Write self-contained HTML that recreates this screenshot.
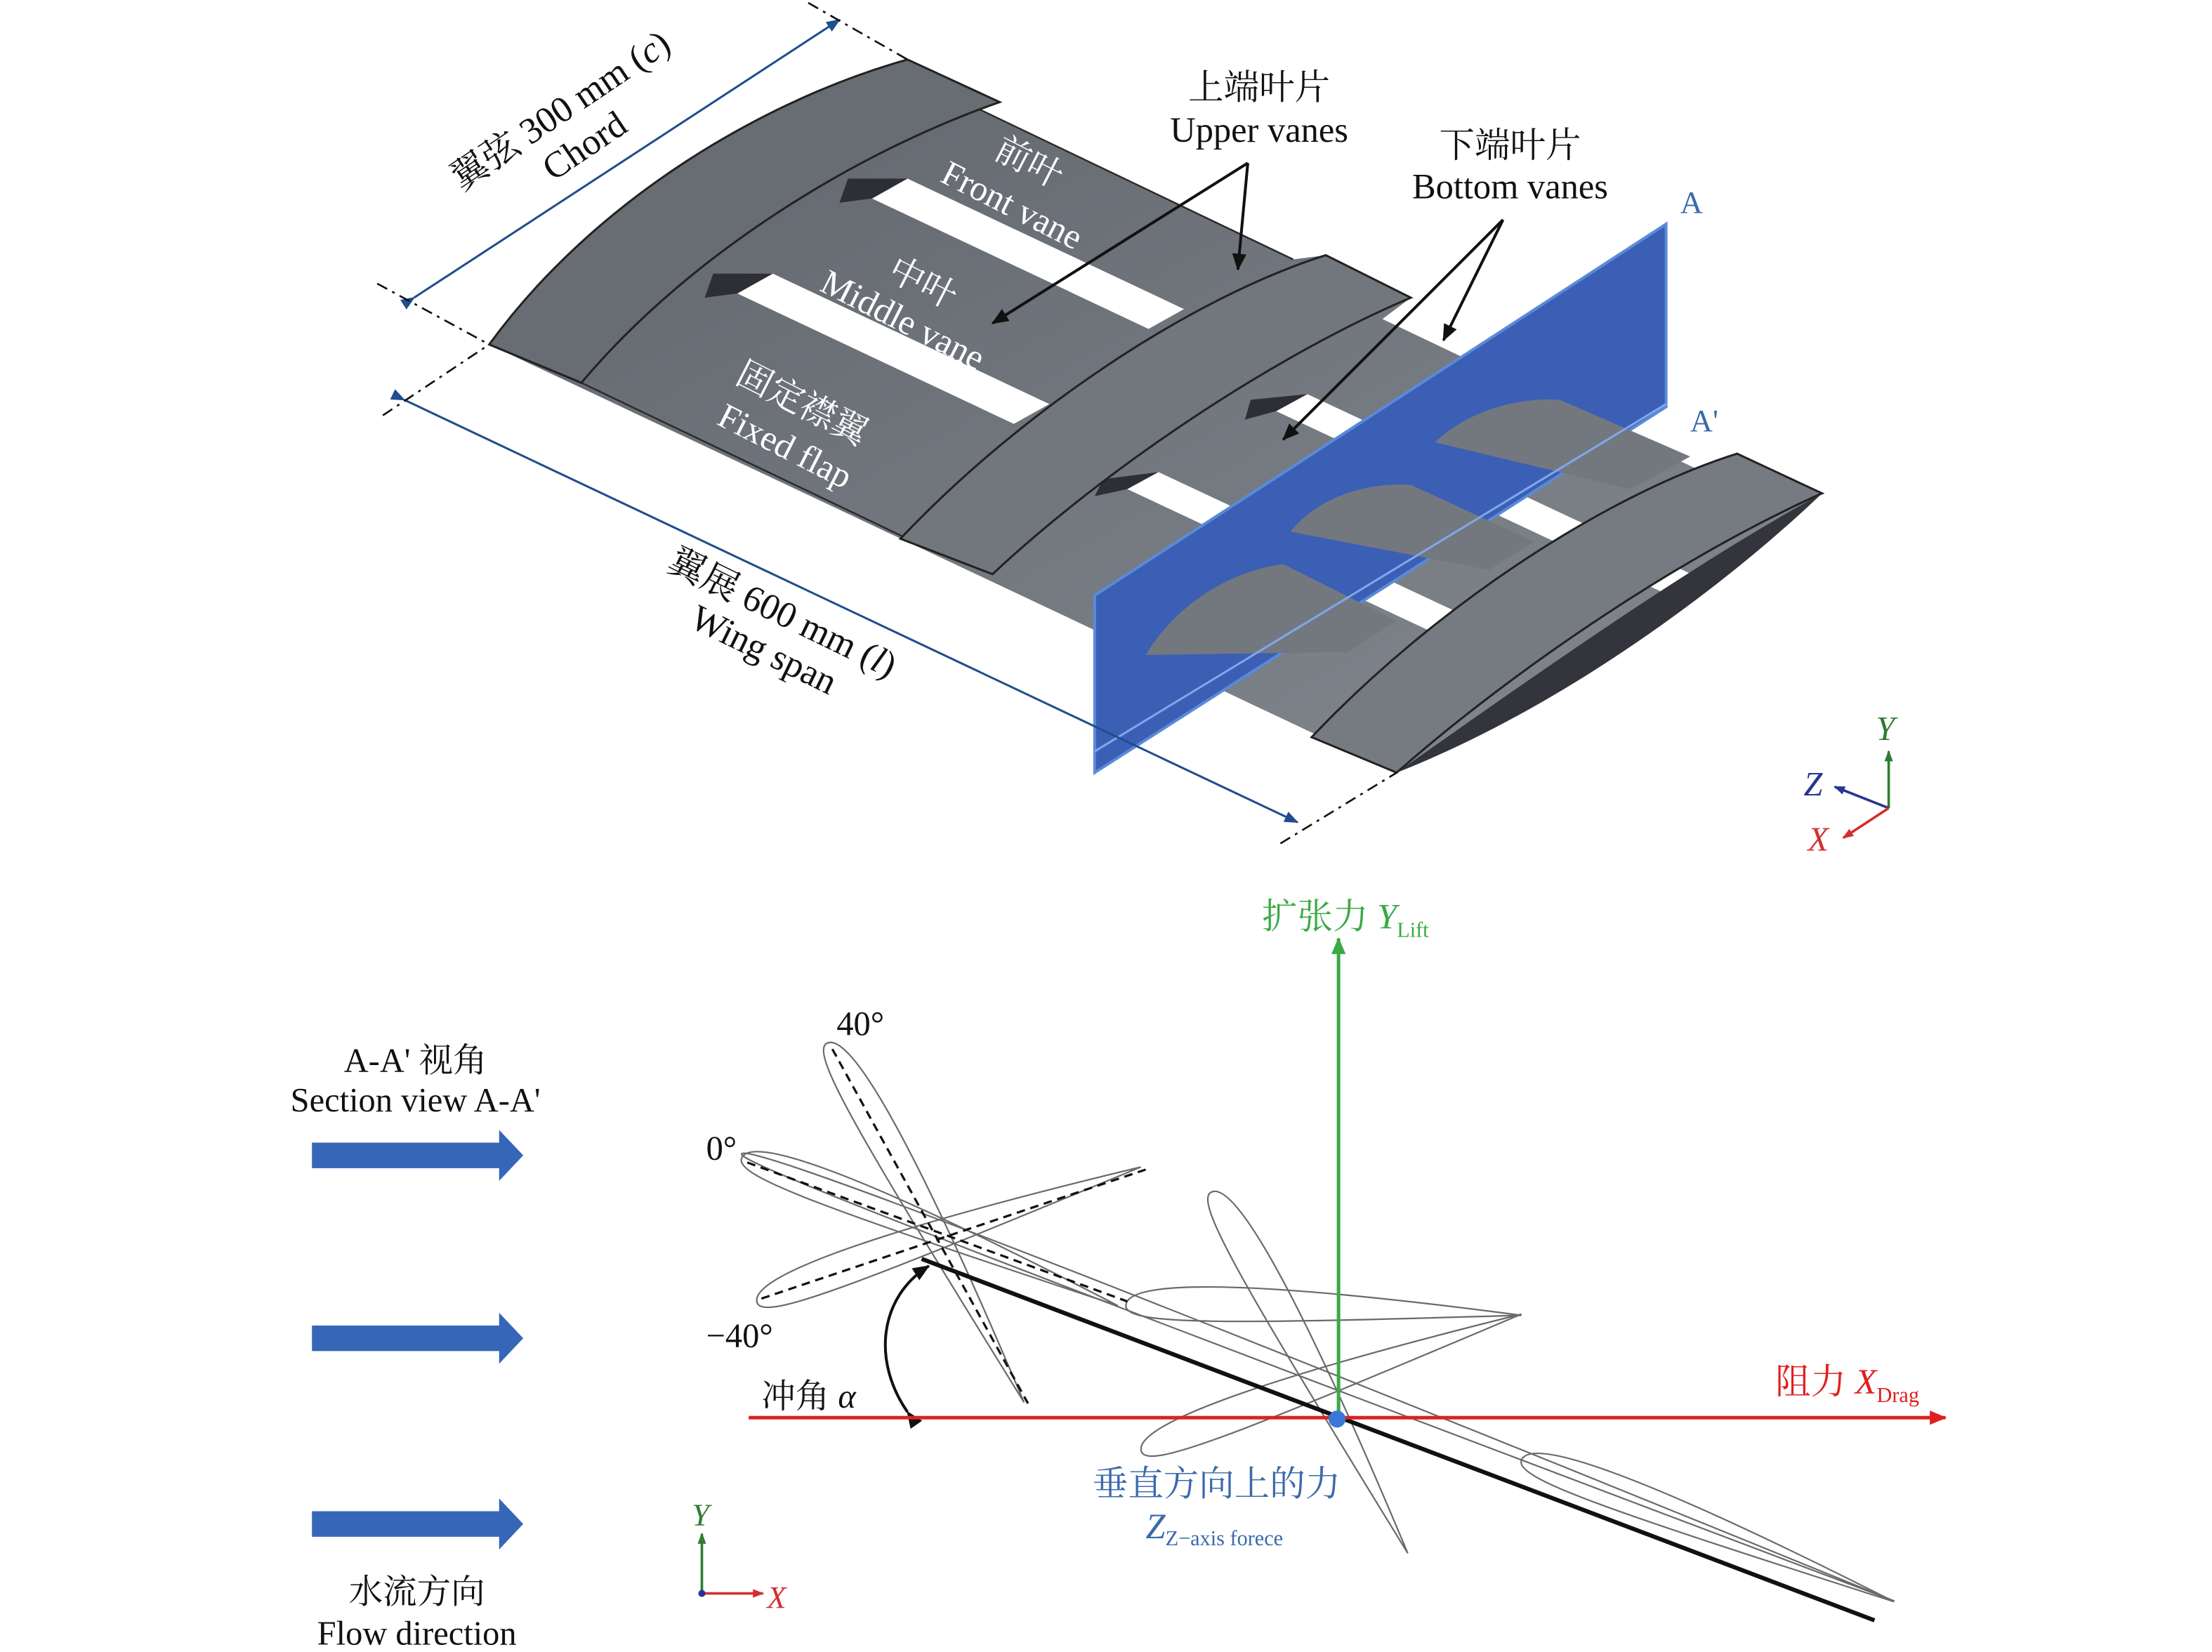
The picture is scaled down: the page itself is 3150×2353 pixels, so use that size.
<!DOCTYPE html>
<html><head><meta charset="utf-8"><style>
html,body{margin:0;padding:0;background:#fff;}
svg{display:block;}
text{font-family:"Liberation Serif","Noto Serif CJK SC",serif;}
</style></head><body>
<svg width="3150" height="2353" viewBox="0 0 1560 1165.3" xmlns="http://www.w3.org/2000/svg">
<defs>
<marker id="ab" markerWidth="10" markerHeight="10" refX="9" refY="5" orient="auto" markerUnits="userSpaceOnUse"><path d="M0,1 L10,5 L0,9 z" fill="#1f4e8c"/></marker>
<marker id="ak" markerWidth="12" markerHeight="12" refX="11" refY="6" orient="auto" markerUnits="userSpaceOnUse"><path d="M0,1 L12,6 L0,11 z" fill="#111"/></marker>
<marker id="ag" markerWidth="12" markerHeight="12" refX="11" refY="6" orient="auto" markerUnits="userSpaceOnUse"><path d="M0,1 L12,6 L0,11 z" fill="#3aaa45"/></marker>
<marker id="ar" markerWidth="12" markerHeight="12" refX="11" refY="6" orient="auto" markerUnits="userSpaceOnUse"><path d="M0,1 L12,6 L0,11 z" fill="#e02020"/></marker>
<marker id="sg" markerWidth="8" markerHeight="8" refX="7" refY="4" orient="auto" markerUnits="userSpaceOnUse"><path d="M0,1 L8,4 L0,7 z" fill="#2e7d32"/></marker>
<marker id="sr" markerWidth="8" markerHeight="8" refX="7" refY="4" orient="auto" markerUnits="userSpaceOnUse"><path d="M0,1 L8,4 L0,7 z" fill="#d32f2f"/></marker>
<marker id="sn" markerWidth="8" markerHeight="8" refX="7" refY="4" orient="auto" markerUnits="userSpaceOnUse"><path d="M0,1 L8,4 L0,7 z" fill="#283593"/></marker>
<linearGradient id="gw" x1="0" y1="0" x2="1" y2="1"><stop offset="0" stop-color="#5f646b"/><stop offset="1" stop-color="#858a91"/></linearGradient>
<path id="af" d="M0,0 C0,-6 25,-8 100,0 C25,4 0,5 0,0 Z" fill="none" stroke="#6a6a6a" stroke-width="2.2" vector-effect="non-scaling-stroke"/>
</defs>

<!-- WING base -->
<path d="M345,243 C420,140 540,70 640,42 L705,72 L680,72 L912,183 L935,180 L995,210 L975,225 L1195,330 L1225,320 L1285,348 L985,545 Z" fill="url(#gw)"/>
<g fill="#fff">
<polygon points="615,140 640,126 835,218 810,232"/>
<polygon points="520,207 545,193 740,285 715,299"/>
<polygon points="900,290 922,278 1195,406 1173,418"/>
<polygon points="795,345 817,333 1090,461 1068,473"/>
</g>
<g fill="#2e2f36">
<polygon points="598,126 640,126 615,140 592,143"/>
<polygon points="503,193 545,193 520,207 497,210"/>
<polygon points="882,282 922,278 900,290 878,296"/>
<polygon points="778,338 817,333 795,345 772,350"/>
</g>
<g stroke="#2a2a2a" stroke-width="1.2" fill="none">
<line x1="680" y1="72" x2="912" y2="183"/>
<line x1="410" y1="270" x2="640" y2="380"/>
</g>
<!-- end plates -->
<path d="M345,243 C420,140 540,70 640,42 L705,72 C610,105 490,175 410,270 Z" fill="#686d74" stroke="#222" stroke-width="1.5"/>
<path d="M635,380 C720,290 840,210 935,180 L995,210 C900,250 780,330 700,405 Z" fill="#72777e" stroke="#222" stroke-width="1.5"/>
<path d="M925,520 C1010,430 1130,350 1225,320 L1285,348 C1190,390 1070,470 985,545 Z" fill="#767b82" stroke="#222" stroke-width="1.5"/>
<path d="M985,545 C1080,478 1190,400 1285,348 C1215,415 1100,500 985,545 Z" fill="#33343c"/>

<!-- blue section plane -->
<polygon points="772,420 1175,158 1175,287 772,545" fill="#3a5fb5" stroke="#5b8ad8" stroke-width="2"/>
<g fill="#73787f">
<path d="M808,462 C830,425 870,402 905,398 L985,438 L950,460 Z"/>
<path d="M910,375 C930,350 965,340 995,342 L1082,382 L1050,402 Z"/>
<path d="M1012,312 C1035,290 1070,280 1100,282 L1192,322 L1150,345 Z"/>
</g>
<line x1="772" y1="530" x2="1175" y2="285" stroke="#7fa8ea" stroke-width="1.5"/>
<text x="1185" y="150" font-size="22" fill="#3a6aab">A</text>
<text x="1192" y="304" font-size="22" fill="#3a6aab">A'</text>

<!-- dimension lines -->
<g stroke="#1f4e8c" stroke-width="1.5" fill="none">
<line x1="292" y1="210" x2="592" y2="14" marker-start="url(#ab)" marker-end="url(#ab)"/>
<line x1="285" y1="282" x2="915" y2="580" marker-start="url(#ab)" marker-end="url(#ab)"/>
</g>
<g stroke="#111" stroke-width="1.3" stroke-dasharray="8,4,2,4" fill="none">
<line x1="266" y1="200" x2="345" y2="243"/>
<line x1="570" y1="2" x2="640" y2="42"/>
<line x1="270" y1="293" x2="345" y2="243"/>
<line x1="903" y1="595" x2="985" y2="545"/>
</g>
<g font-size="26" fill="#111">
<text transform="translate(400,85) rotate(-34)" text-anchor="middle">翼弦 300 mm (<tspan font-style="italic">c</tspan>)</text>
<text transform="translate(417,110) rotate(-34)" text-anchor="middle">Chord</text>
<text transform="translate(548,440) rotate(26)" text-anchor="middle">翼展 600 mm (<tspan font-style="italic">l</tspan>)</text>
<text transform="translate(535,466) rotate(26)" text-anchor="middle">Wing span</text>
</g>
<g font-size="25" fill="#fff">
<text transform="translate(722,122) rotate(27)" text-anchor="middle">前叶</text>
<text transform="translate(710,152) rotate(27)" text-anchor="middle">Front vane</text>
<text transform="translate(647,207) rotate(27)" text-anchor="middle">中叶</text>
<text transform="translate(633,233) rotate(27)" text-anchor="middle">Middle vane</text>
<text transform="translate(562,292) rotate(27)" text-anchor="middle">固定襟翼</text>
<text transform="translate(550,322) rotate(27)" text-anchor="middle">Fixed flap</text>
</g>
<g font-size="25" fill="#111" text-anchor="middle">
<text x="888" y="70">上端叶片</text>
<text x="888" y="100">Upper vanes</text>
<text x="1065" y="111">下端叶片</text>
<text x="1065" y="140">Bottom vanes</text>
</g>
<g stroke="#111" stroke-width="2" fill="none">
<line x1="880" y1="115" x2="873" y2="190" marker-end="url(#ak)"/>
<line x1="880" y1="115" x2="700" y2="228" marker-end="url(#ak)"/>
<line x1="1060" y1="155" x2="1018" y2="240" marker-end="url(#ak)"/>
<line x1="1060" y1="155" x2="905" y2="310" marker-end="url(#ak)"/>
</g>

<!-- 3D axes -->
<g stroke-width="1.8" fill="none">
<line x1="1332" y1="570" x2="1332" y2="530" stroke="#2e7d32" marker-end="url(#sg)"/>
<line x1="1332" y1="570" x2="1294" y2="555" stroke="#283593" marker-end="url(#sn)"/>
<line x1="1332" y1="570" x2="1300" y2="591" stroke="#d32f2f" marker-end="url(#sr)"/>
</g>
<g font-size="24" font-style="italic">
<text x="1323" y="522" fill="#2e7d32">Y</text>
<text x="1272" y="561" fill="#283593">Z</text>
<text x="1275" y="600" fill="#d32f2f">X</text>
</g>

<!-- BOTTOM -->
<g font-size="24" fill="#111" text-anchor="middle">
<text x="293" y="756">A-A' 视角</text>
<text x="293" y="784">Section view A-A'</text>
<text x="294" y="1131">水流方向</text>
<text x="294" y="1160">Flow direction</text>
</g>
<g fill="#3566b8">
<path d="M220,806 L352,806 L352,797 L369,815 L352,833 L352,824 L220,824 Z"/>
<path d="M220,935 L352,935 L352,926 L369,944 L352,962 L352,953 L220,953 Z"/>
<path d="M220,1066 L352,1066 L352,1057 L369,1075 L352,1093 L352,1084 L220,1084 Z"/>
</g>
<g stroke-width="1.8">
<line x1="495" y1="1124" x2="495" y2="1082" stroke="#2e7d32" marker-end="url(#sg)"/>
<line x1="495" y1="1124" x2="538" y2="1124" stroke="#d32f2f" marker-end="url(#sr)"/>
</g>
<circle cx="495" cy="1124" r="2.5" fill="#283593"/>
<text x="488" y="1076" font-size="22" font-style="italic" fill="#2e7d32">Y</text>
<text x="541" y="1134" font-size="22" font-style="italic" fill="#d32f2f">X</text>

<!-- airfoils -->
<use href="#af" transform="translate(583,736) rotate(61.2) scale(2.89,2.8)"/>
<use href="#af" transform="translate(523,817) rotate(21.4) scale(2.85,2.8)"/>
<use href="#af" transform="translate(534,919) rotate(-19.5) scale(2.87,2.8)"/>
<use href="#af" transform="translate(794,921) rotate(1.4) scale(2.79,2.8)"/>
<use href="#af" transform="translate(854,841) rotate(61.4) scale(2.9,2.8)"/>
<use href="#af" transform="translate(805,1024) rotate(-19.9) scale(2.85,2.8)"/>
<use href="#af" transform="translate(1073,1030) rotate(20.8) scale(2.81,2.8)"/>
<use href="#af" transform="translate(523,814) rotate(21.2) scale(8.72,1.4)"/>
<g stroke="#111" stroke-width="1.6" stroke-dasharray="6,4" fill="none">
<line x1="587" y1="740" x2="725" y2="990"/>
<line x1="527" y1="820" x2="795" y2="918"/>
<line x1="537" y1="916" x2="808" y2="825"/>
</g>
<line x1="650" y1="888" x2="1322" y2="1143" stroke="#111" stroke-width="3"/>
<path d="M640,996 C615,960 620,915 655,893" fill="none" stroke="#111" stroke-width="2" marker-start="url(#ak)" marker-end="url(#ak)"/>

<line x1="944" y1="1000" x2="944" y2="662" stroke="#3aaa45" stroke-width="2.5" marker-end="url(#ag)"/>
<line x1="528" y1="1000" x2="1372" y2="1000" stroke="#e02020" stroke-width="2.5" marker-end="url(#ar)"/>
<circle cx="943" cy="1001" r="6" fill="#3a78d8"/>

<g font-size="24" fill="#111">
<text x="590" y="730">40°</text>
<text x="498" y="818">0°</text>
<text x="498" y="950">−40°</text>
<text x="537" y="993">冲角 <tspan font-style="italic">α</tspan></text>
</g>
<text x="890" y="655" font-size="25" fill="#3aaa45">扩张力 <tspan font-style="italic">Y</tspan><tspan font-size="15" dy="6">Lift</tspan></text>
<text x="1252" y="983" font-size="25" fill="#e02020">阻力 <tspan font-style="italic">X</tspan><tspan font-size="15" dy="6">Drag</tspan></text>
<text x="858" y="1055" font-size="25" fill="#3a6aab" text-anchor="middle">垂直方向上的力</text>
<text x="808" y="1085" font-size="25" fill="#3a6aab"><tspan font-style="italic">Z</tspan><tspan font-size="15" dy="5">Z−axis forece</tspan></text>
</svg>
</body></html>
